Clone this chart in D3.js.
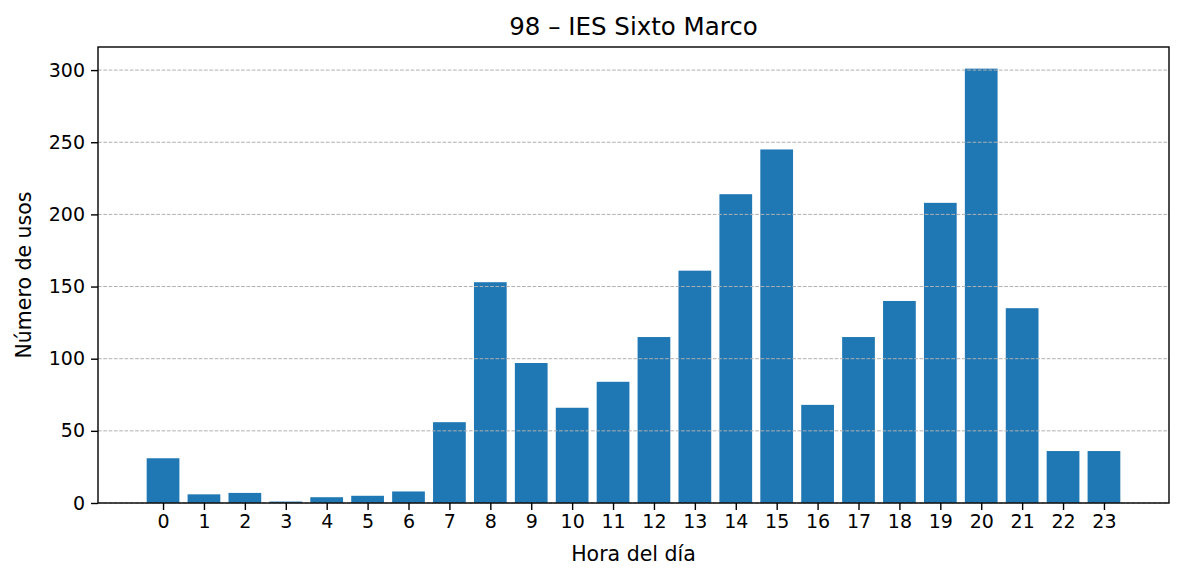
<!DOCTYPE html>
<html>
<head>
<meta charset="utf-8">
<script src="https://cdn.jsdelivr.net/npm/d3@7"></script>
<style>
  body { margin: 0; background: #fff; }
  svg text { font-family: "DejaVu Sans", sans-serif; fill: #000; }
</style>
</head>
<body>
<svg id="chart" width="1184" height="581"></svg>
<script>
// Hours of the day and number of uses
const hours = [0,1,2,3,4,5,6,7,8,9,10,11,12,13,14,15,16,17,18,19,20,21,22,23];
const usos = [31,6,7,1,4,5,8,56,153,97,66,84,115,161,214,245,68,115,140,208,301,135,36,36];
const yTicks = [0,50,100,150,200,250,300];

const chartTitle = "98 – IES Sixto Marco";
const xLabel = "Hora del día";
const yLabel = "Número de usos";

// plot box (pixels)
const plotL = 98, plotR = 1169, plotT = 47, plotB = 503;

const svg = d3.select("#chart");

const x = d3.scaleLinear().domain([-1.59, 24.59]).range([plotL, plotR]);
const y = d3.scaleLinear().domain([0, 316]).range([plotB, plotT]);
const barW = 0.8;

// bars
svg.append("g")
  .selectAll("rect")
  .data(hours)
  .enter()
  .append("rect")
  .attr("x", h => x(h - barW / 2))
  .attr("width", h => x(barW) - x(0))
  .attr("y", (h, i) => y(usos[i]))
  .attr("height", (h, i) => y(0) - y(usos[i]))
  .style("fill", "#1f77b4");

// dashed horizontal grid (drawn over the bars, like matplotlib)
svg.append("g")
  .selectAll("line")
  .data(yTicks)
  .enter()
  .append("line")
  .attr("x1", plotL).attr("x2", plotR)
  .attr("y1", d => y(d)).attr("y2", d => y(d))
  .style("stroke", "#b0b0b0")
  .style("stroke-width", 1)
  .style("stroke-dasharray", "3.7,1.6");

// axes
const xAxis = d3.axisBottom(x).tickValues(hours).tickFormat(d3.format("d")).tickSizeOuter(0).tickSize(7).tickPadding(5);
const yAxis = d3.axisLeft(y).tickValues(yTicks).tickSizeOuter(0).tickSize(7).tickPadding(6);

const gx = svg.append("g").attr("transform", `translate(0,${plotB})`).call(xAxis);
const gy = svg.append("g").attr("transform", `translate(${plotL},0)`).call(yAxis);
[gx, gy].forEach(g => {
  g.select(".domain").remove();
  g.selectAll(".tick line").style("stroke", "#000").style("stroke-width", 1.4);
  g.selectAll(".tick text").style("font-size", "19px").style("font-family", "DejaVu Sans");
});

// frame
svg.append("rect")
  .attr("x", plotL).attr("y", plotT)
  .attr("width", plotR - plotL).attr("height", plotB - plotT)
  .style("fill", "none")
  .style("stroke", "#000")
  .style("stroke-width", 1.4);

// title and labels
svg.append("text")
  .attr("x", (plotL + plotR) / 2).attr("y", 35)
  .attr("text-anchor", "middle")
  .style("font-size", "24.5px")
  .text(chartTitle);

svg.append("text")
  .attr("x", (plotL + plotR) / 2).attr("y", 561)
  .attr("text-anchor", "middle")
  .style("font-size", "20.5px")
  .text(xLabel);

svg.append("text")
  .attr("transform", `translate(31,${(plotT + plotB) / 2}) rotate(-90)`)
  .attr("text-anchor", "middle")
  .style("font-size", "20.5px")
  .text(yLabel);
</script>
</body>
</html>
